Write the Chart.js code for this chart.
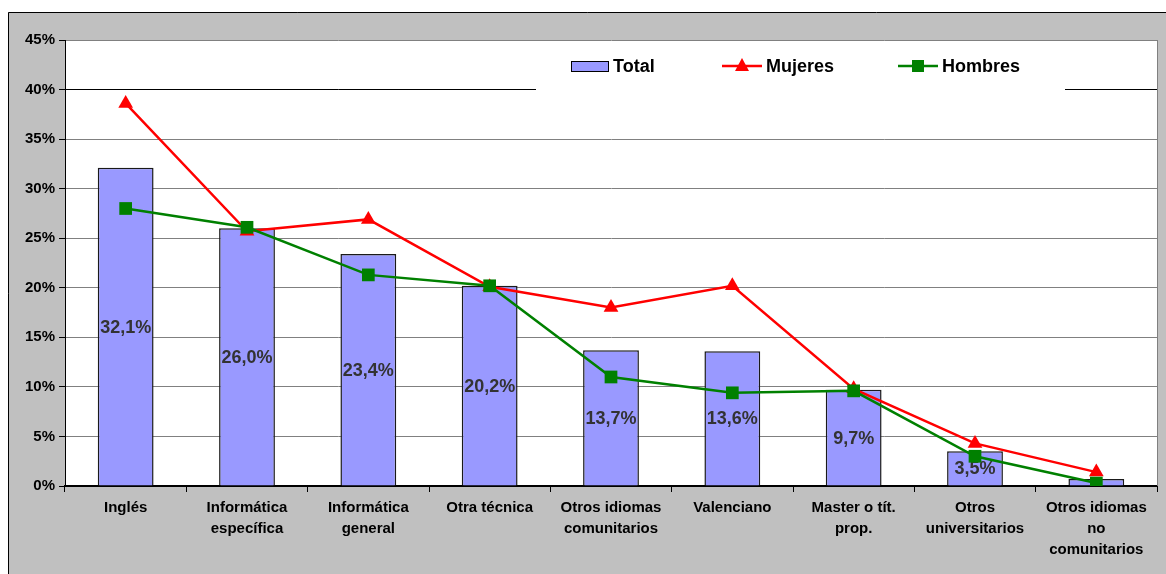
<!DOCTYPE html>
<html>
<head>
<meta charset="utf-8">
<script src="https://cdn.jsdelivr.net/npm/chart.js@4/dist/chart.umd.min.js"></script>
<style>
  html, body { margin: 0; padding: 0; background: #ffffff; }
  canvas { display: block; }
</style>
</head>
<body>
<canvas id="c" width="1166" height="574"></canvas>
<script>
const categories = [
  ['Inglés'],
  ['Informática', 'específica'],
  ['Informática', 'general'],
  ['Otra técnica'],
  ['Otros idiomas', 'comunitarios'],
  ['Valenciano'],
  ['Master o tít.', 'prop.'],
  ['Otros', 'universitarios'],
  ['Otros idiomas', 'no', 'comunitarios']
];
const totalValues   = [32.1, 26.0, 23.4, 20.2, 13.7, 13.6, 9.7, 3.5, 0.7];
const mujeresValues = [38.6, 25.7, 26.9, 20.1, 18.0, 20.2, 9.8, 4.3, 1.4];
const hombresValues = [28.0, 26.1, 21.3, 20.2, 11.0, 9.4, 9.6, 3.0, 0.3];
const yTickValues = [0, 5, 10, 15, 20, 25, 30, 35, 40, 45];
const seriesNames = ['Total', 'Mujeres', 'Hombres'];

const FONT = '"Liberation Sans", Arial, sans-serif';
const BAR_COLOR = '#9999FF';
const RED = '#FF0000';
const GREEN = '#008000';

const backgroundPlugin = {
  id: 'bg',
  beforeDraw(chart) {
    const ctx = chart.ctx;
    const a = chart.chartArea;
    ctx.save();
    ctx.fillStyle = '#ffffff';
    ctx.fillRect(0, 0, chart.width, chart.height);
    ctx.fillStyle = '#C0C0C0';
    ctx.fillRect(8, 12, chart.width - 8, chart.height - 12);
    ctx.strokeStyle = '#000';
    ctx.lineWidth = 1;
    ctx.beginPath();
    ctx.moveTo(8.5, chart.height);
    ctx.lineTo(8.5, 12.5);
    ctx.lineTo(chart.width, 12.5);
    ctx.stroke();
    ctx.fillStyle = '#ffffff';
    ctx.fillRect(a.left, a.top, a.right - a.left, a.bottom - a.top);
    ctx.restore();
  },
  afterDatasetDraw(chart, args) {
    if (args.index !== 0) return;
    const ctx = chart.ctx;
    const meta = chart.getDatasetMeta(0);
    ctx.save();
    ctx.font = 'bold 18px ' + FONT;
    ctx.fillStyle = '#333333';
    ctx.textAlign = 'center';
    ctx.textBaseline = 'middle';
    meta.data.forEach((el, i) => {
      const v = totalValues[i];
      if (v < 1) return;
      const txt = v.toFixed(1).replace('.', ',') + '%';
      ctx.fillText(txt, el.x, (el.y + el.base) / 2 + 1);
    });
    ctx.restore();
  },
  afterDraw(chart) {
    const ctx = chart.ctx;
    const a = chart.chartArea;
    ctx.save();
    // right plot border
    ctx.strokeStyle = '#808080';
    ctx.lineWidth = 1;
    ctx.beginPath();
    ctx.moveTo(Math.round(a.right) + 0.5, a.top);
    ctx.lineTo(Math.round(a.right) + 0.5, a.bottom);
    ctx.stroke();
    // legend
    ctx.fillStyle = '#ffffff';
    ctx.fillRect(536, 41, 529, 54);
    const cy = 66;
    ctx.font = 'bold 18px ' + FONT;
    ctx.textBaseline = 'middle';
    ctx.textAlign = 'left';
    // Total
    ctx.fillStyle = BAR_COLOR;
    ctx.fillRect(571, 61, 37, 10);
    ctx.strokeStyle = '#000';
    ctx.lineWidth = 1;
    ctx.strokeRect(571.5, 61.5, 37, 10);
    ctx.fillStyle = '#000';
    ctx.fillText(seriesNames[0], 613, cy + 1);
    // Mujeres
    ctx.strokeStyle = RED;
    ctx.lineWidth = 2.5;
    ctx.beginPath();
    ctx.moveTo(722, cy); ctx.lineTo(762, cy); ctx.stroke();
    ctx.fillStyle = RED;
    ctx.beginPath();
    ctx.moveTo(742, cy - 8);
    ctx.lineTo(749, cy + 5);
    ctx.lineTo(735, cy + 5);
    ctx.closePath();
    ctx.fill();
    ctx.fillStyle = '#000';
    ctx.fillText(seriesNames[1], 766, cy + 1);
    // Hombres
    ctx.strokeStyle = GREEN;
    ctx.beginPath();
    ctx.moveTo(898, cy); ctx.lineTo(938, cy); ctx.stroke();
    ctx.fillStyle = GREEN;
    ctx.fillRect(912, cy - 6, 12, 12);
    ctx.fillStyle = '#000';
    ctx.fillText(seriesNames[2], 942, cy + 1);
    ctx.restore();
  }
};

new Chart(document.getElementById('c'), {
  type: 'bar',
  data: {
    labels: categories,
    datasets: [
      {
        type: 'bar',
        label: seriesNames[0],
        data: totalValues,
        backgroundColor: BAR_COLOR,
        borderColor: '#1a1a1a',
        borderWidth: 1.5,
        barPercentage: 0.46,
        categoryPercentage: 1,
        order: 3
      },
      {
        type: 'line',
        label: seriesNames[1],
        data: mujeresValues,
        borderColor: RED,
        backgroundColor: RED,
        borderWidth: 2.5,
        tension: 0,
        fill: false,
        pointStyle: 'triangle',
        pointRadius: 8.5,
        pointBorderWidth: 0,
        pointBackgroundColor: RED,
        order: 2
      },
      {
        type: 'line',
        label: seriesNames[2],
        data: hombresValues,
        borderColor: GREEN,
        backgroundColor: GREEN,
        borderWidth: 2.5,
        tension: 0,
        fill: false,
        pointStyle: 'rect',
        pointRadius: 9,
        pointBorderWidth: 0,
        pointBackgroundColor: GREEN,
        order: 1
      }
    ]
  },
  options: {
    responsive: false,
    animation: false,
    layout: { padding: { left: 0, top: 40, right: 4, bottom: 0 } },
    plugins: {
      legend: { display: false },
      tooltip: { enabled: false }
    },
    scales: {
      x: {
        afterFit(scale) { scale.height = 88; },
        grid: {
          drawOnChartArea: false,
          drawTicks: true,
          tickLength: 6,
          tickColor: '#000',
          offset: true
        },
        border: { color: '#000', width: 2 },
        ticks: {
          color: '#000',
          font: { family: FONT, size: 15, weight: 'bold', lineHeight: 1.37 },
          padding: 6,
          maxRotation: 0,
          autoSkip: false
        }
      },
      y: {
        min: 0,
        max: 45,
        afterFit(scale) { scale.width = 65; },
        afterBuildTicks(scale) { scale.ticks = yTickValues.map(v => ({ value: v })); },
        grid: {
          color: (ctx) => (ctx.tick && ctx.tick.value === 40) ? '#000' : '#808080',
          lineWidth: 1,
          tickLength: 6,
          tickColor: '#000'
        },
        border: { color: '#000', width: 1 },
        ticks: {
          color: '#000',
          font: { family: FONT, size: 15, weight: 'bold' },
          padding: 4,
          callback: (v) => v + '%'
        }
      }
    }
  },
  plugins: [backgroundPlugin]
});
</script>
</body>
</html>
